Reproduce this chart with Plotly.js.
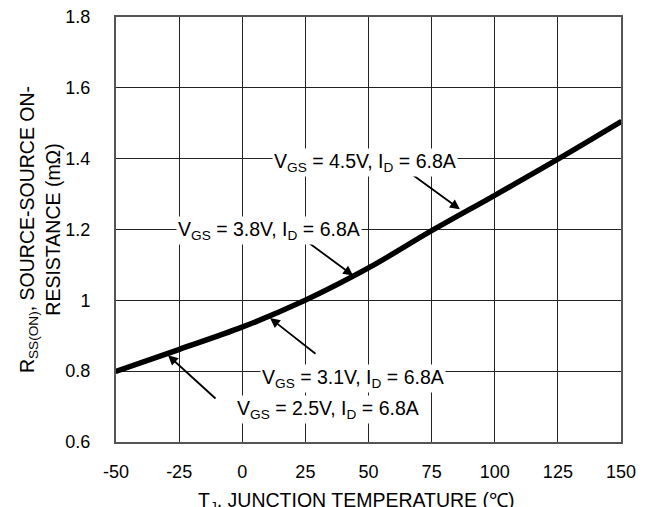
<!DOCTYPE html>
<html>
<head>
<meta charset="utf-8">
<script src="https://cdn.plot.ly/plotly-3.0.1.min.js"></script>
<style>html,body{margin:0;padding:0;background:#fff;}#chart{width:660px;height:507px;}</style>
</head>
<body>
<div id="chart"></div>
<script>
// Junction temperature (°C)
var temperature = [-50, -25, 0, 25, 50, 75, 100, 125, 150];
var xTickText = ['-50', '-25', '0', '25', '50', '75', '100', '125', '150'];
var yTickVals = [0.6, 0.8, 1.0, 1.2, 1.4, 1.6, 1.8];
var yTickText = ['0.6', '0.8', '1', '1.2', '1.4', '1.6', '1.8'];
var xTitle = 'T<sub>J</sub>, JUNCTION TEMPERATURE (℃)';
var yTitle = 'R<sub>SS(ON)</sub>, SOURCE-SOURCE ON-<br>RESISTANCE (mΩ)';
// On-resistance (mΩ) for each gate voltage, ID = 6.8A
var rds_vgs25 = [0.803, 0.865, 0.928, 1.004, 1.095, 1.200, 1.300, 1.402, 1.508];
var rds_vgs31 = [0.800, 0.862, 0.925, 1.001, 1.092, 1.197, 1.297, 1.399, 1.505];
var rds_vgs38 = [0.798, 0.860, 0.923, 0.999, 1.090, 1.195, 1.295, 1.397, 1.503];
var rds_vgs45 = [0.796, 0.858, 0.921, 0.997, 1.088, 1.193, 1.293, 1.395, 1.501];
var seriesNames = ["V<sub>GS</sub> = 2.5V, I<sub>D</sub> = 6.8A", "V<sub>GS</sub> = 3.1V, I<sub>D</sub> = 6.8A", "V<sub>GS</sub> = 3.8V, I<sub>D</sub> = 6.8A", "V<sub>GS</sub> = 4.5V, I<sub>D</sub> = 6.8A"];
// annotation text positions [x, y], arrow tails [x, y], arrow heads [x, y]
var labelPos = [[34, 0.693], [44, 0.778], [10.6, 1.197], [48.7, 1.389]];
var arrowTail = [[-10, 0.719], [29.6, 0.846], [24.9, 1.17], [66.4, 1.36]];
var arrowHead = [[-29.4, 0.845], [11, 0.95], [43.9, 1.07], [86.2, 1.257]];

var allSeries = [rds_vgs25, rds_vgs31, rds_vgs38, rds_vgs45];
var traces = allSeries.map(function (ys, i) {
  return {x: temperature, y: ys, type: 'scatter', mode: 'lines', name: seriesNames[i],
    line: {color: '#000', width: 3.2, shape: 'spline'}, hoverinfo: 'skip'};
});

var fam = 'Liberation Sans, Arial, sans-serif';
var tickFont = {family: fam, size: 18, color: '#000'};
var textFont = {family: fam, size: 19.5, color: '#000'};
var annotations = [];
for (var i = 0; i < 4; i++) {
  annotations.push({x: arrowHead[i][0], y: arrowHead[i][1], ax: arrowTail[i][0], ay: arrowTail[i][1],
    xref: 'x', yref: 'y', axref: 'x', ayref: 'y', text: '', showarrow: true,
    arrowhead: 2, arrowsize: 1.1, arrowwidth: 1.8, arrowcolor: '#000'});
}
for (var j = 0; j < 4; j++) {
  annotations.push({x: labelPos[j][0], y: labelPos[j][1], xref: 'x', yref: 'y', text: seriesNames[j],
    showarrow: false, bgcolor: '#fff', font: textFont, borderpad: 1});
}
// x-axis title, placed low as in the reference
annotations.push({x: 0.477, y: -0.106, xref: 'paper', yref: 'paper', xanchor: 'center', yanchor: 'top',
  text: xTitle, showarrow: false, font: textFont});

var layout = {
  width: 660, height: 507,
  margin: {l: 116, r: 39, t: 17, b: 65},
  paper_bgcolor: '#fff', plot_bgcolor: '#fff',
  showlegend: false,
  font: textFont,
  xaxis: {range: [-50, 150], tickvals: temperature, ticktext: xTickText, ticks: '', showgrid: true, gridcolor: '#222', gridwidth: 1,
    zeroline: false, showline: true, mirror: true, linecolor: '#555', linewidth: 2,
    tickfont: tickFont, ticklabelstandoff: 12},
  yaxis: {range: [0.6, 1.8], tickvals: yTickVals, ticktext: yTickText, ticks: '', showgrid: true, gridcolor: '#222', gridwidth: 1,
    zeroline: false, showline: true, mirror: true, linecolor: '#555', linewidth: 2,
    tickfont: tickFont, ticklabelstandoff: 20,
    title: {text: yTitle, font: textFont, standoff: 0}},
  annotations: annotations
};
Plotly.newPlot('chart', traces, layout, {displayModeBar: false, staticPlot: true});
</script>
</body>
</html>
